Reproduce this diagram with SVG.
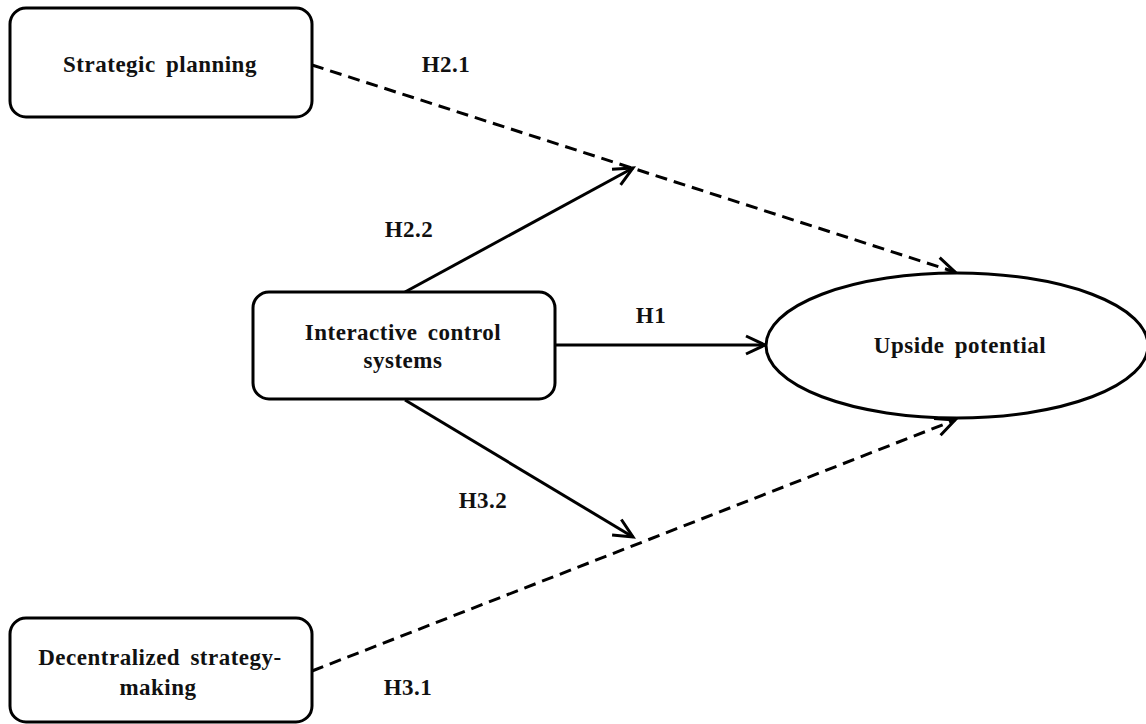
<svg xmlns="http://www.w3.org/2000/svg" width="1146" height="724" viewBox="0 0 1146 724">
<style>
.box{fill:#fff;stroke:#000;stroke-width:3}
.t{font-family:"Liberation Serif",serif;font-weight:bold;font-size:23px;letter-spacing:0.5px;word-spacing:4px;fill:#111;text-anchor:middle}
.c{fill:none;stroke:#000;stroke-width:3}
.d{stroke-dasharray:12,7}
</style>
<defs>
<marker id="ah" viewBox="0 0 12 12" refX="11" refY="6" markerWidth="12" markerHeight="12" markerUnits="userSpaceOnUse" orient="auto" overflow="visible">
<path d="M-8,-3 L11,6 L-8,15" fill="none" stroke="#000" stroke-width="3"/>
</marker>
</defs>
<g id="connectors">
<line class="c d" x1="312" y1="65" x2="955" y2="272" marker-end="url(#ah)"/>
<line class="c d" x1="312" y1="671" x2="955" y2="420" marker-end="url(#ah)"/>
<line class="c" x1="405" y1="292" x2="633" y2="168" marker-end="url(#ah)"/>
<line class="c" x1="405" y1="400" x2="633" y2="537" marker-end="url(#ah)"/>
<line class="c" x1="555" y1="345" x2="765" y2="345" marker-end="url(#ah)"/>
<text class="t" x="446" y="72">H2.1</text>
<text class="t" x="409" y="237">H2.2</text>
<text class="t" x="651" y="323">H1</text>
<text class="t" x="483" y="508">H3.2</text>
<text class="t" x="408" y="695">H3.1</text>
</g>
<g id="strategic-planning">
<rect class="box" x="10" y="8" width="302" height="109" rx="16"/>
<text class="t" x="160" y="72">Strategic planning</text>
</g>
<g id="interactive-control-systems">
<rect class="box" x="253" y="292" width="302" height="107" rx="16"/>
<text class="t" x="403" y="340">Interactive control</text>
<text class="t" x="403" y="368">systems</text>
</g>
<g id="upside-potential">
<ellipse class="box" cx="957" cy="345.5" rx="191" ry="72.5"/>
<text class="t" x="960" y="353">Upside potential</text>
</g>
<g id="decentralized-strategy-making">
<rect class="box" x="10" y="618" width="302" height="104" rx="16"/>
<text class="t" x="160" y="665">Decentralized strategy-</text>
<text class="t" x="158" y="695">making</text>
</g>
</svg>
